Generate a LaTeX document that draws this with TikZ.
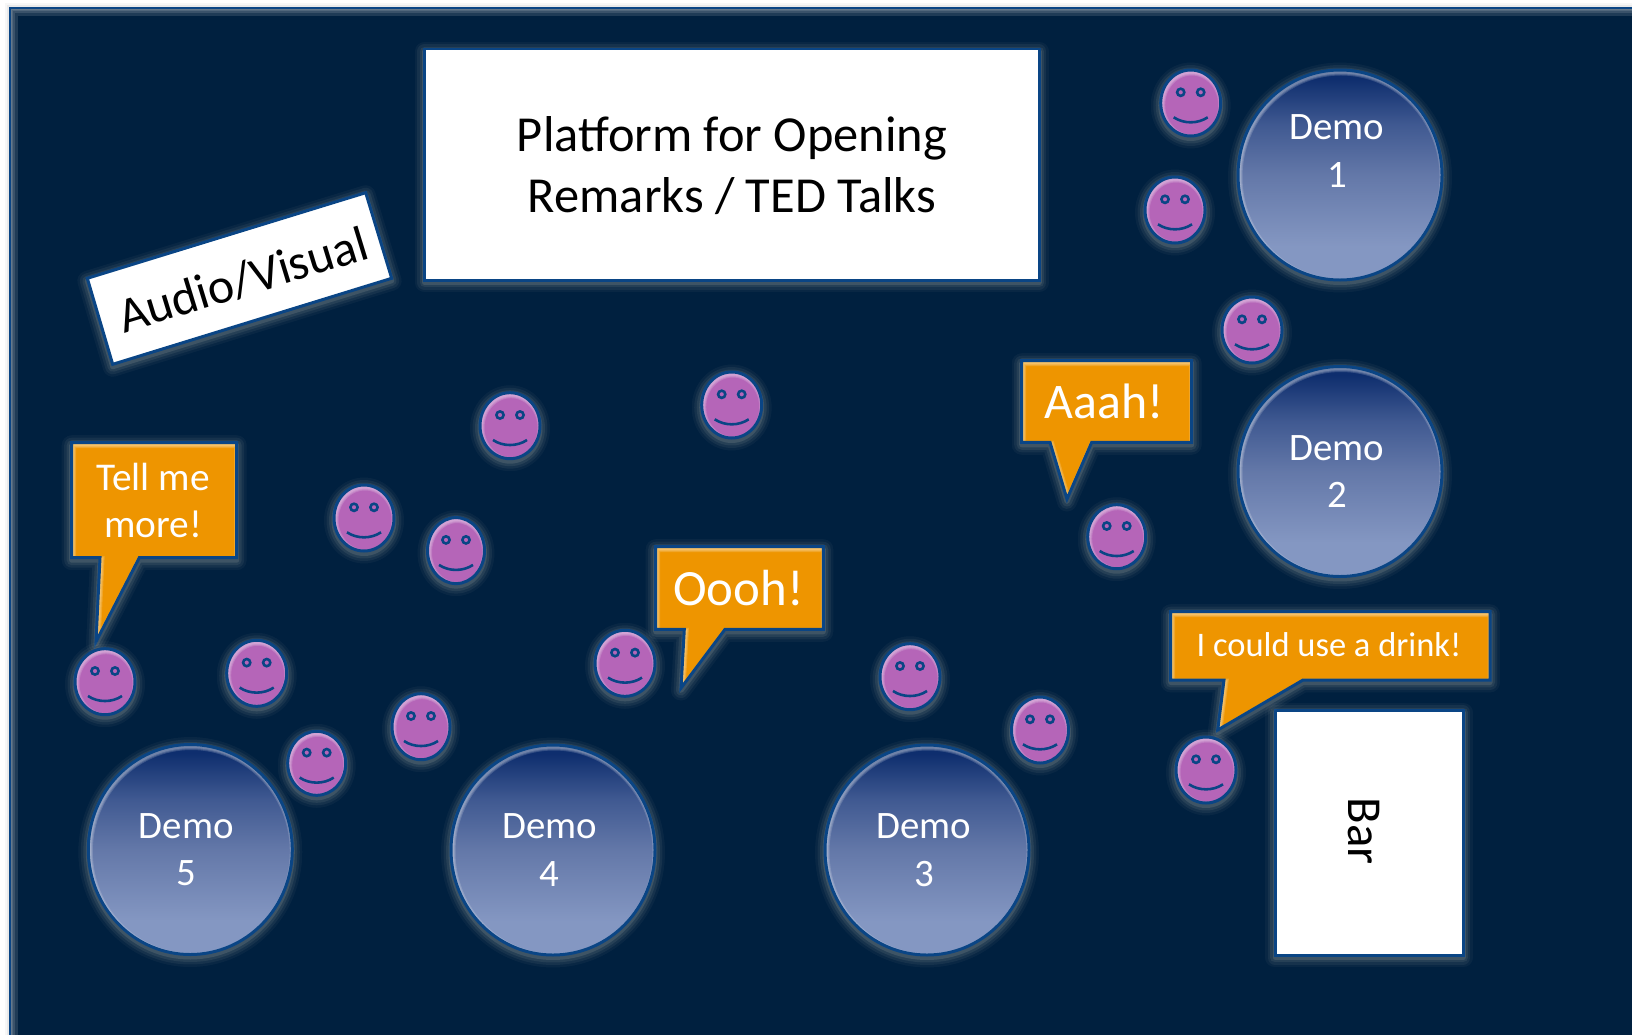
\documentclass[tikz,border=0pt]{standalone}
\usepackage{fontspec}
\setmainfont{Carlito}
\definecolor{bgnavy}{HTML}{00203F}
\definecolor{edgeblue}{HTML}{0A4585}
\definecolor{facepurple}{HTML}{B565B8}
\definecolor{calloutorange}{HTML}{EE9500}
\definecolor{glowc}{HTML}{EDE6D2}
\pgfdeclareverticalshading{demoshadeB}{100bp}{%
 rgb(0bp)=(.518,.592,.761);rgb(33bp)=(.518,.592,.761);rgb(50bp)=(.39,.47,.66);rgb(62bp)=(.25,.35,.57);rgb(73bp)=(.055,.18,.43);rgb(100bp)=(.055,.18,.43)}
\tikzset{
  edgeline/.style={draw=edgeblue,line width=3pt,line join=miter},
  txt/.style={inner sep=0pt,align=center,text=white},
  blacktxt/.style={inner sep=0pt,align=center,text=black},
}
\newcommand{\gshape}[2]{%
  \foreach \w/\o in {20/.04,15/.06,10/.08,5/.12}{\draw[glowc,opacity=\o,line width=\w pt,line join=round,shift={(0,2.5)}] #2;}
  \path[#1] #2;
  \begin{scope}\clip #2;
    \foreach \w in {7,5,3}{\draw[white,opacity=.16,line width=\w pt,shift={(1,2)}] #2;}
  \end{scope}
  \draw[edgeline] #2;
}
\newcommand{\smiley}[4]{%
  \gshape{fill=facepurple}{(#1,#2) ellipse [x radius=#3,y radius=#4]}
  \begin{scope}[shift={(#1,#2)}]
    \draw[edgeblue,line width=2.6pt] (-10,-10.7) circle [radius=3.6];
    \draw[edgeblue,line width=2.6pt] (10,-10.7) circle [radius=3.6];
    \draw[edgeblue,line width=2.6pt] (-17,14.3) .. controls (-7,21) and (7,21) .. (17,14.3);
  \end{scope}
}
% #1 number, #2 cx, #3 cy, #4 name, #5 text dx, #6 text dy
\newcommand{\demo}[6]{%
  \gshape{shading=demoshadeB}{(#2,#3) ellipse [x radius=102,y radius=105]}
  \node[txt,font=\fontsize{39}{47.5}\selectfont] (#4) at (#2+#5,#3+#6) {Demo\\#1};
}
\begin{document}
\begin{tikzpicture}[x=1bp,y=-1bp]
\useasboundingbox (0,0) rectangle (1632,1034);
\fill[white] (0,0) rectangle (1632,1034);
\begin{scope}
\clip (0,0) rectangle (1632,1034);
\foreach \w/\o in {10/.03,6/.05,3/.08}{\draw[black,opacity=\o,line width=\w pt] (10,8) rectangle (1700,1100);}
\fill[bgnavy] (10,8) rectangle (1700,1100);
\begin{scope}
\clip (10,8) rectangle (1700,1100);
\foreach \w in {16,11,7,4}{\draw[white,opacity=.12,line width=\w pt] (10,8) rectangle (1700,1100);}
\end{scope}
\draw[edgeline] (10,8) rectangle (1700,1100);
\end{scope}

% white boxes
\gshape{fill=white}{(424.6,49) rectangle (1039,280)}
\node[blacktxt,font=\fontsize{50.6}{62}\selectfont] (platform) at (732,165.5) {Platform for Opening\\Remarks / TED Talks};
\gshape{fill=white}{(87.3,278.3) -- (365.7,192.7) -- (391.7,278.3) -- (112.7,364.3) -- cycle}
\node[blacktxt,rotate=17,font=\fontsize{50}{60}\selectfont] (av) at (243,280) {Audio/Visual};
\gshape{fill=white}{(1275,710) rectangle (1463,955)}
\node[blacktxt,rotate=-90,font=\fontsize{49}{56}\selectfont] (bar) at (1364,831) {Bar};

% demos
\demo{1}{1340}{175}{demoone}{-3}{-24}
\demo{2}{1340}{471.5}{demotwo}{-3}{0}
\demo{3}{927}{850}{demothree}{-3}{0}
\demo{4}{553}{850}{demofour}{-3.5}{0}
\demo{5}{190.3}{849.5}{demofive}{-4}{0}

% callouts
\gshape{fill=calloutorange}{(71.7,442.7) -- (236.7,442.7) -- (236.7,557.7) -- (139.3,557.7) -- (96,641.7) -- (100,557.7) -- (71.7,557.7) -- cycle}
\node[txt,font=\fontsize{39.5}{47.5}\selectfont] (tell) at (153,500.5) {Tell me\\more!};
\gshape{fill=calloutorange}{(1021.7,360.7) -- (1191.7,360.7) -- (1191.7,442.3) -- (1091.7,442.3) -- (1067,499) -- (1050,442.3) -- (1021.7,442.3) -- cycle}
\node[txt,font=\fontsize{50}{58}\selectfont] (aaah) at (1104,401) {Aaah!};
\gshape{fill=calloutorange}{(655.7,546.7) -- (823.3,546.7) -- (823.3,629.3) -- (725,629.3) -- (681,688) -- (684.3,629.3) -- (655.7,629.3) -- cycle}
\node[txt,font=\fontsize{51}{58}\selectfont] (oooh) at (738.5,588) {Oooh!};
\gshape{fill=calloutorange}{(1170.7,611.7) -- (1490,611.7) -- (1490,680) -- (1303,680) -- (1217.7,730) -- (1224,680) -- (1170.7,680) -- cycle}
\node[txt,font=\fontsize{34.6}{40}\selectfont] (drink) at (1329,645) {I could use a drink!};

% smileys
\smiley{1190.7}{103}{30}{33}
\smiley{1175}{210}{30}{33}
\smiley{1252}{330}{30}{33}
\smiley{731.7}{405}{30}{33}
\smiley{510}{425.7}{30}{33}
\smiley{364}{518}{30}{33}
\smiley{456}{550.6}{28.5}{33}
\smiley{1116.7}{536.7}{29}{32}
\smiley{625}{663.3}{30}{33}
\smiley{910}{676.7}{30}{33}
\smiley{1040}{730}{28.5}{33}
\smiley{1206}{770}{30}{33}
\smiley{105}{681.7}{30}{33}
\smiley{256.7}{673.3}{30}{33}
\smiley{316.7}{763.3}{29}{32}
\smiley{421}{726.7}{29}{33}
\end{tikzpicture}
\end{document}
